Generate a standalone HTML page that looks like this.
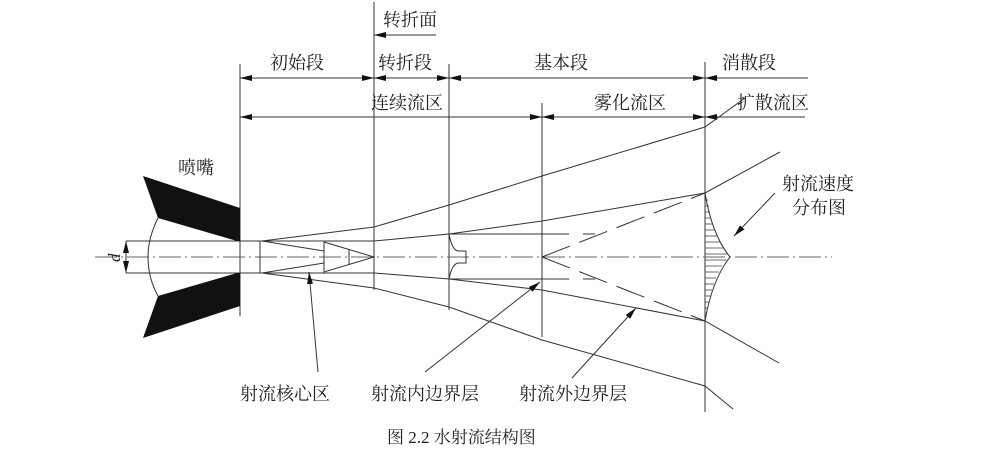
<!DOCTYPE html>
<html><head><meta charset="utf-8"><style>
html,body{margin:0;padding:0;background:#fff;}
svg{display:block}
text{font-family:"Liberation Serif","Noto Serif CJK SC","Noto Sans CJK SC",serif;fill:#222;}
</style></head><body>
<svg width="984" height="454" viewBox="0 0 984 454" xmlns="http://www.w3.org/2000/svg">
<defs>
<marker id="a" viewBox="0 0 12 6" refX="12" refY="3" markerWidth="12" markerHeight="6" orient="auto-start-reverse" markerUnits="userSpaceOnUse"><path d="M0,0 L12,3 L0,6 z" fill="#111"/></marker>
</defs>
<g stroke="#333" stroke-width="1" fill="none">
<line x1="240" y1="64" x2="240" y2="316"/>
<line x1="374" y1="2" x2="374" y2="290"/>
<line x1="449" y1="64" x2="449" y2="310"/>
<line x1="542" y1="103" x2="542" y2="337"/>
<line x1="705" y1="62" x2="705" y2="412"/>
<line x1="240" y1="78" x2="374" y2="78" marker-start="url(#a)" marker-end="url(#a)"/>
<line x1="374" y1="78" x2="449" y2="78" marker-start="url(#a)" marker-end="url(#a)"/>
<line x1="449" y1="78" x2="705" y2="78" marker-start="url(#a)" marker-end="url(#a)"/>
<line x1="705" y1="78" x2="808" y2="78" marker-start="url(#a)"/>
<line x1="240" y1="117" x2="542" y2="117" marker-start="url(#a)" marker-end="url(#a)"/>
<line x1="542" y1="117" x2="705" y2="117" marker-start="url(#a)" marker-end="url(#a)"/>
<line x1="705" y1="117" x2="805" y2="117" marker-start="url(#a)"/>
<line x1="436" y1="35" x2="374" y2="35" marker-end="url(#a)"/>
<line x1="95" y1="257" x2="832" y2="257" stroke="#666" stroke-dasharray="22,4,2,4"/>
<polyline points="240,241 126,241"/>
<polyline points="240,273 126,273"/>
<line x1="126" y1="241" x2="126" y2="273" marker-start="url(#a)" marker-end="url(#a)"/>
<path d="M158,218 Q148,238 148,257 Q148,278 158,296"/>
<line x1="240" y1="241" x2="374" y2="241"/>
<line x1="240" y1="273" x2="374" y2="273"/>
<line x1="260" y1="241" x2="260" y2="273"/>
<polyline points="262,241 324,251"/><polyline points="262,273 324,263"/>
<polyline points="324,242 374,257 324,272 324,242"/>
<line x1="349" y1="250" x2="349" y2="264"/>
<polyline points="262,241 374,227 449,205 542,176 705,127 745,98"/>
<polyline points="262,273 374,288 449,307 542,340 705,386 733,409"/>
<polyline points="374,241 449,234 542,221 705,193 780,152"/>
<polyline points="374,273 449,279 542,290 705,321 779,363"/>
<line x1="449" y1="234" x2="595" y2="234" stroke-dasharray="120,14,20,40"/>
<line x1="449" y1="279" x2="595" y2="279" stroke-dasharray="120,14,20,40"/>
<line x1="542" y1="257" x2="705" y2="193" stroke-dasharray="30,10"/>
<line x1="542" y1="257" x2="705" y2="321" stroke-dasharray="30,10"/>
<path d="M449,234 Q452,250 458,251 L466,251 L466,263 L458,263 Q452,264 449,279"/>
<path d="M705,193 Q712,235 730,257 Q712,280 705,321"/>
</g>
<g stroke="#444" stroke-width="0.8">
<line x1="705" y1="200" x2="708" y2="200"/><line x1="705" y1="206" x2="709" y2="206"/>
<line x1="705" y1="212" x2="710" y2="212"/><line x1="705" y1="218" x2="711" y2="218"/>
<line x1="705" y1="224" x2="713" y2="224"/><line x1="705" y1="230" x2="715" y2="230"/>
<line x1="705" y1="236" x2="717" y2="236"/><line x1="705" y1="242" x2="720" y2="242"/>
<line x1="705" y1="248" x2="723" y2="248"/><line x1="705" y1="254" x2="727" y2="254"/>
<line x1="705" y1="260" x2="727" y2="260"/><line x1="705" y1="266" x2="722" y2="266"/>
<line x1="705" y1="272" x2="719" y2="272"/><line x1="705" y1="278" x2="716" y2="278"/>
<line x1="705" y1="284" x2="714" y2="284"/><line x1="705" y1="290" x2="712" y2="290"/>
<line x1="705" y1="296" x2="711" y2="296"/><line x1="705" y1="302" x2="709" y2="302"/>
<line x1="705" y1="308" x2="708" y2="308"/><line x1="705" y1="314" x2="707" y2="314"/>
</g>
<polygon points="143,176 240,208 240,241 237,241 158,218" fill="#111"/>
<polygon points="158,296 237,273 240,273 240,306 143,338" fill="#111"/>
<g stroke="#333" stroke-width="1">
<line x1="318" y1="372" x2="309" y2="272" marker-end="url(#a)"/>
<line x1="425" y1="372" x2="540" y2="282" marker-end="url(#a)"/>
<line x1="572" y1="378" x2="636" y2="308" marker-end="url(#a)"/>
<line x1="775" y1="193" x2="734" y2="236" marker-end="url(#a)"/>
</g>
<g font-size="18">
<text x="383" y="26">转折面</text>
<text x="270" y="69">初始段</text>
<text x="378" y="69">转折段</text>
<text x="534" y="69">基本段</text>
<text x="722" y="69">消散段</text>
<text x="371" y="109">连续流区</text>
<text x="594" y="109">雾化流区</text>
<text x="737" y="109">扩散流区</text>
<text x="178" y="174">喷嘴</text>
<text x="782" y="190">射流速度</text>
<text x="792" y="214">分布图</text>
<text x="240" y="400">射流核心区</text>
<text x="371" y="400">射流内边界层</text>
<text x="519" y="400">射流外边界层</text>
<text x="120" y="262" font-style="italic" transform="rotate(-90 120 262)" font-size="17">d</text>
<text x="387" y="443" font-size="17">图 2.2  水射流结构图</text>
</g>
</svg>
</body></html>
